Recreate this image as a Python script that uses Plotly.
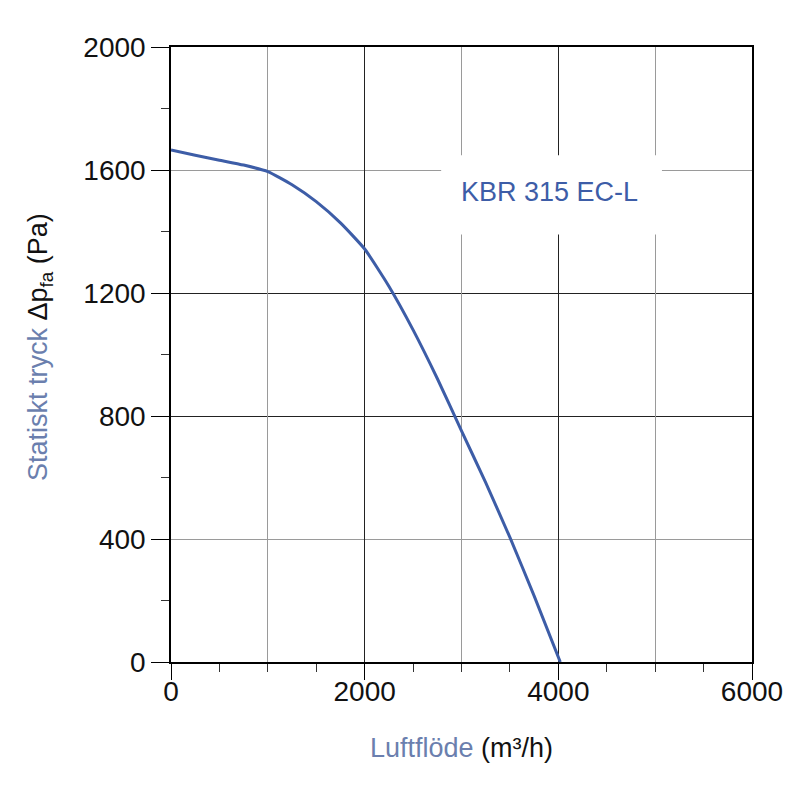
import plotly.graph_objects as go

# Fan curve
luftflode = [0, 250, 500, 750, 1000, 1250, 1500, 1750, 2000, 2250, 2500, 2750, 3000, 3250, 3500, 3750, 4020]
tryck = [1665, 1648, 1632, 1616, 1595, 1552, 1497, 1428, 1343, 1222, 1080, 922, 752, 583, 405, 215, 0]

modell = "KBR 315 EC-L"

# tick / grid values
x_ticks = [0, 2000, 4000, 6000]
y_ticks = [0, 400, 800, 1200, 1600, 2000]
x_grid_dark = [2000, 4000]
x_grid_light = [1000, 3000, 5000]
y_grid_dark = [800, 1200]
y_grid_light = [400, 1600]

# white box behind the model label
label_box_x = [2790, 5070]
label_box_y = [1390, 1648]
label_pos = (3910, 1527)

blue = "#3d5da7"
title_blue = "#6b7fae"
font = "Liberation Sans, Arial, sans-serif"

fig = go.Figure()

fig.add_trace(go.Scatter(
    x=luftflode, y=tryck,
    mode="lines",
    line=dict(color=blue, width=3, shape="spline", smoothing=0.5),
    showlegend=False, hoverinfo="skip",
))

# helper overlay axes just for the two grid shades
for ax_x in ["x2", "x3"]:
    fig.add_trace(go.Scatter(x=[None], y=[None], xaxis=ax_x, yaxis="y", showlegend=False))
for ax_y in ["y2", "y3"]:
    fig.add_trace(go.Scatter(x=[None], y=[None], xaxis="x", yaxis=ax_y, showlegend=False))

grid_axis = dict(showticklabels=False, ticks="", showline=False, zeroline=False, gridwidth=1)

fig.update_layout(
    width=800, height=800,
    margin=dict(l=163, r=56, t=39, b=146),
    plot_bgcolor="white", paper_bgcolor="white",
    font=dict(family=font, size=28, color="#111111"),
    xaxis=dict(
        range=[0, 6000], tickvals=x_ticks, showgrid=False, zeroline=False,
        showline=True, linecolor="black", linewidth=1.5, mirror=True,
        ticks="outside", ticklen=16, tickcolor="black", tickwidth=1,
        ticklabelstandoff=-12,
        minor=dict(dtick=500, ticks="outside", ticklen=8, tickcolor="#333333", showgrid=False),
    ),
    yaxis=dict(
        range=[0, 2000], tickvals=y_ticks, showgrid=False, zeroline=False,
        showline=True, linecolor="black", linewidth=1.5, mirror=True,
        ticks="outside", ticklen=18, tickcolor="black", tickwidth=1,
        minor=dict(dtick=200, ticks="outside", ticklen=8, tickcolor="#333333", showgrid=False),
    ),
    xaxis2=dict(overlaying="x", range=[0, 6000], tickvals=x_grid_dark, showgrid=True, gridcolor="#222222", **grid_axis),
    xaxis3=dict(overlaying="x", range=[0, 6000], tickvals=x_grid_light, showgrid=True, gridcolor="#9a9a9a", **grid_axis),
    yaxis2=dict(overlaying="y", range=[0, 2000], tickvals=y_grid_dark, showgrid=True, gridcolor="#222222", **grid_axis),
    yaxis3=dict(overlaying="y", range=[0, 2000], tickvals=y_grid_light, showgrid=True, gridcolor="#9a9a9a", **grid_axis),
)

# axis titles
fig.add_annotation(
    x=0.5, y=0, xref="paper", yref="paper", yshift=-86,
    text=f"<span style='color:{title_blue}'>Luftflöde</span> (m³/h)",
    showarrow=False, xanchor="center", yanchor="middle",
    font=dict(family=font, size=27, color="#111111"),
)
fig.add_annotation(
    x=0, y=0.512, xref="paper", yref="paper", xshift=-131,
    text=f"<span style='color:{title_blue}'>Statiskt tryck</span> Δp<sub>fa</sub> (Pa)",
    showarrow=False, textangle=-90, xanchor="center", yanchor="middle",
    font=dict(family=font, size=27, color="#111111"),
)

fig.add_shape(
    type="rect", xref="x", yref="y",
    x0=label_box_x[0], x1=label_box_x[1], y0=label_box_y[0], y1=label_box_y[1],
    fillcolor="white", line=dict(width=0), layer="above",
)
fig.add_annotation(
    x=label_pos[0], y=label_pos[1], xref="x", yref="y",
    text=modell, showarrow=False,
    font=dict(family=font, size=27, color=blue),
)

fig.write_html("out.html")
